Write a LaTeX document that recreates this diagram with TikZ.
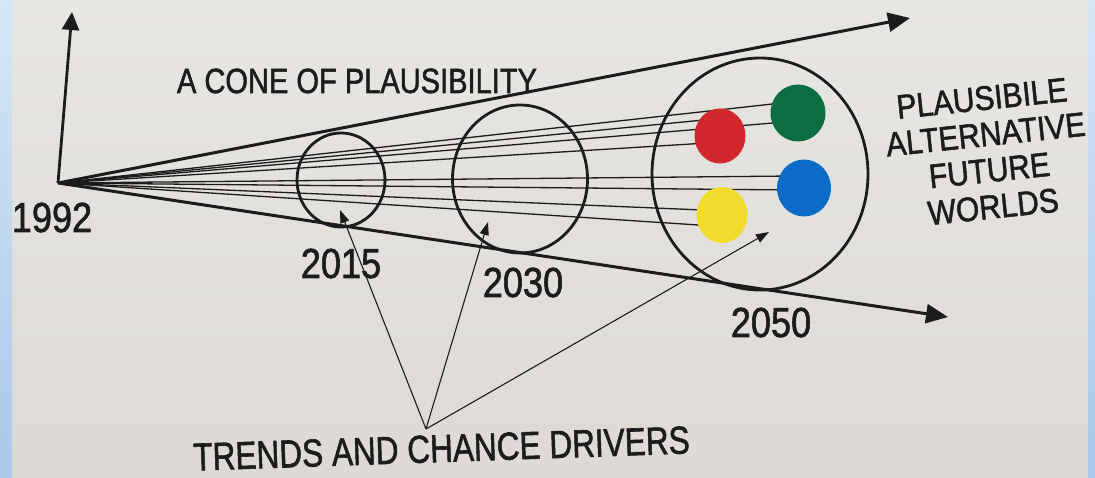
\documentclass[tikz,border=0pt]{standalone}
\usepackage{fontspec}
\usepackage{graphicx}
\setmainfont{Liberation Sans}
\newfontfamily\lbfont{Liberation Sans}[FakeBold=1.6]
\usetikzlibrary{arrows.meta,shapes.geometric}
\definecolor{paperA}{HTML}{E8E6E2}
\definecolor{paperB}{HTML}{DDDAD6}
\definecolor{bandA}{HTML}{D6E6F6}
\definecolor{bandB}{HTML}{A9C8EA}
\definecolor{ink}{HTML}{1C1C1C}
\definecolor{dotred}{HTML}{D2272C}
\definecolor{dotgreen}{HTML}{0B6E42}
\definecolor{dotblue}{HTML}{0A6CC6}
\definecolor{dotyellow}{HTML}{F1DB2C}
\newcommand{\sqz}[2][0.86]{\scalebox{#1}[1]{#2}}
\begin{document}
\begin{tikzpicture}[x=1pt,y=-1pt,
  conel/.style={draw=ink,line width=3pt,-{Triangle[length=22pt,width=19pt]}},
  axisl/.style={draw=ink,line width=2.8pt,-{Triangle[length=18pt,width=17pt]}},
  ring/.style={draw=ink,line width=2.8pt,ellipse,inner sep=0pt},
  dotnode/.style={ellipse,inner sep=0pt,minimum width=51pt,minimum height=55pt},
  fanl/.style={draw=ink,line width=1.3pt},
  drvl/.style={draw=ink,line width=1.1pt,-{Triangle[length=13pt,width=9pt]}},
  lbl/.style={text=ink,inner sep=0pt},
  yearlbl/.style={lbl,anchor=base,font=\lbfont\fontsize{42}{50}\selectfont}]
\useasboundingbox (0,0) rectangle (1095,478);
% paper
\shade[top color=paperA,bottom color=paperB] (0,0) rectangle (1095,478);
% rings
\node[ring,minimum width=88pt,minimum height=94pt] (r2015) at (341,180) {};
\node[ring,minimum width=135pt,minimum height=148pt] (r2030) at (520,179) {};
\node[ring,minimum width=216pt,minimum height=232pt] (r2050) at (760,174) {};
% origin and tips
\coordinate (O) at (58,183);
\coordinate (tipV) at (72,12);
\coordinate (tipU) at (910,18);
\coordinate (tipL) at (948,317);
% fan lines
\coordinate (fg1) at (785,102.6);
\coordinate (fg2) at (785,122);
\coordinate (fr1) at (712,119.2);
\coordinate (fr2) at (712,142.7);
\coordinate (fb1) at (792,176);
\coordinate (fb2) at (792,190);
\coordinate (fy1) at (712,210.4);
\coordinate (fy2) at (712,225.9);
\foreach \p in {fg1,fg2,fr1,fr2,fb1,fb2,fy1,fy2} \draw[fanl] (O) -- (\p);
% dots
\node[dotnode,fill=dotred] (dred) at (720,136) {};
\node[dotnode,fill=dotgreen,minimum width=55pt,minimum height=57pt] (dgreen) at (798,113) {};
\node[dotnode,fill=dotblue,minimum width=54pt,minimum height=57pt] (dblue) at (804,188) {};
\node[dotnode,fill=dotyellow,minimum height=56pt] (dyellow) at (722,215) {};
% cone and axis
\draw[axisl] (O) -- (tipV);
\draw[conel] (O) -- (tipU);
\draw[conel] (O) -- (tipL);
% drivers
\coordinate (D) at (426,429);
\coordinate (t2015) at (340,210);
\coordinate (t2030) at (488,222);
\coordinate (t2050) at (769,232);
\draw[drvl] (D) -- (t2015);
\draw[drvl] (D) -- (t2030);
\draw[drvl] (D) -- (t2050);
% labels
\node[yearlbl] (y1992) at (52,232) {\sqz{1992}};
\node[yearlbl] (y2015) at (341,278) {\sqz{2015}};
\node[yearlbl] (y2030) at (523,297) {\sqz{2030}};
\node[yearlbl] (y2050) at (771,337) {\sqz{2050}};
\node[lbl,anchor=base,font=\lbfont\fontsize{35}{40}\selectfont] (title) at (357,93) {\sqz[0.83]{A CONE OF PLAUSIBILITY}};
\node[lbl,anchor=base,rotate=2,font=\lbfont\fontsize{39}{44}\selectfont] (drivers) at (442,462) {\sqz[0.81]{TRENDS AND CHANCE DRIVERS}};
\node[lbl,rotate=6,font=\lbfont\fontsize{34}{31}\selectfont] (worlds) at (988,157)
  {\sqz[0.88]{\begin{tabular}{@{}c@{}}PLAUSIBILE\\[3.5pt]ALTERNATIVE\\[3.5pt]FUTURE\\[3.5pt]WORLDS\end{tabular}}};
% blue frame bands
\shade[top color=bandA,bottom color=bandB] (0,0) rectangle (12,478);
\shade[top color=bandA,bottom color=bandB] (1088,0) rectangle (1095,478);
\end{tikzpicture}
\end{document}
